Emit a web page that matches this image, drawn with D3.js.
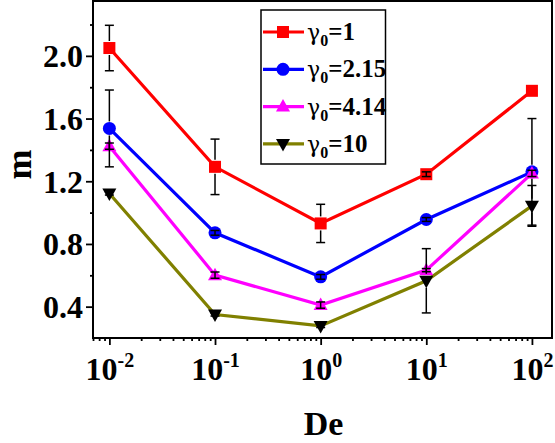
<!DOCTYPE html>
<html><head><meta charset="utf-8">
<script src="https://cdn.jsdelivr.net/npm/d3@7"></script>
<style>
html,body{margin:0;padding:0;background:#fff;}
svg{display:block;}
text{font-family:"Liberation Serif","Times New Roman",serif;font-weight:bold;fill:#000;}
</style></head>
<body><svg id="c" width="555" height="443"></svg>
<script>
const deValues = [0.01, 0.1, 1, 10, 100];
const seriesNames = ["1", "2.15", "4.14", "10"];
const m_g1    = [2.05, 1.292, 0.931, 1.245, 1.777];
const m_g215  = [1.537, 0.871, 0.59, 0.956, 1.26];
const m_g414  = [1.424, 0.601, 0.41, 0.633, 1.25];
const m_g10   = [1.122, 0.35, 0.277, 0.565, 1.043];
const err_g1   = [0.145, 0.177, 0.122, 0.015, 0.005];
const err_g215 = [0.245, 0.015, 0.015, 0.012, 0.34];
const err_g414 = [0.02, 0.02, 0.02, 0.01, 0.02];
const err_g10  = [0.01, 0.01, 0.01, 0.205, 0.13];
const xTickExps = [-2, -1, 0, 1, 2];
const yTicks = [0.4, 0.8, 1.2, 1.6, 2.0];
const yMinorTicks = [0.6, 1.0, 1.4, 1.8, 2.2];

const series = [
  {name: seriesNames[0], values: m_g1,   errs: err_g1,   color: "#ff0000", mfill: "#ff0000", shape: "square"},
  {name: seriesNames[1], values: m_g215, errs: err_g215, color: "#0000ff", mfill: "#0000ff", shape: "circle"},
  {name: seriesNames[2], values: m_g414, errs: err_g414, color: "#ff00ff", mfill: "#ff00ff", shape: "up"},
  {name: seriesNames[3], values: m_g10,  errs: err_g10,  color: "#808000", mfill: "#000000", shape: "down"}
];

const L = 93, R = 552, T = 1, B = 338;
const svg = d3.select("#c");
const x = d3.scaleLog().domain([Math.pow(10, -2.155), Math.pow(10, 2.19)]).range([L, R]);
const y = d3.scaleLinear().domain([0.2, 2.35]).range([B, T]);

const xMinor = [];
for (let e = -3; e <= 2; e++) for (let k = 2; k <= 9; k++) {
  const v = k * Math.pow(10, e);
  if (v >= x.domain()[0] && v <= x.domain()[1]) xMinor.push(v);
}

const gxMinor = svg.append("g").attr("transform", `translate(0,${B})`)
  .call(d3.axisBottom(x).tickValues(xMinor).tickSize(3).tickFormat(""));
const gx = svg.append("g").attr("transform", `translate(0,${B})`)
  .call(d3.axisBottom(x).tickValues(xTickExps.map(e => Math.pow(10, e))).tickSize(7).tickFormat(""));
const gyMinor = svg.append("g").attr("transform", `translate(${L},0)`)
  .call(d3.axisLeft(y).tickValues(yMinorTicks).tickSize(3).tickFormat(""));
const gy = svg.append("g").attr("transform", `translate(${L},0)`)
  .call(d3.axisLeft(y).tickValues(yTicks).tickSize(7).tickFormat(d3.format(".1f")));
[gxMinor, gx, gyMinor, gy].forEach(g => {
  g.select(".domain").remove();
  g.selectAll(".tick line").attr("stroke", "#000").attr("stroke-width", 1.8);
});
gy.selectAll(".tick text").attr("x", -10).attr("dy", "0.34em")
  .style("font-size", "32px").style("font-family", "Liberation Serif").style("font-weight", "bold");

gx.selectAll(".tick").each(function(d) {
  const e = Math.round(Math.log10(d));
  const t = d3.select(this).append("text").attr("y", 42).attr("text-anchor", "middle")
    .style("font-size", "32px");
  t.append("tspan").text("10");
  t.append("tspan").attr("dy", -13).style("font-size", "20px").text(String(e));
});

svg.append("rect").attr("x", L).attr("y", T).attr("width", R - L).attr("height", B - T)
  .attr("fill", "none").attr("stroke", "#000").attr("stroke-width", 2);

svg.append("text").attr("x", (L + R) / 2 + 1).attr("y", 435).attr("text-anchor", "middle")
  .style("font-size", "34px").text("De");
svg.append("text").attr("transform", `translate(31,${(B + T) / 2 - 5}) rotate(-90)`)
  .attr("text-anchor", "middle").style("font-size", "36px").text("m");

function marker(g, shape, cx, cy, fill) {
  if (shape === "square") {
    g.append("rect").attr("x", cx - 6).attr("y", cy - 6).attr("width", 12).attr("height", 12).attr("fill", fill);
  } else if (shape === "circle") {
    g.append("circle").attr("cx", cx).attr("cy", cy).attr("r", 6.5).attr("fill", fill);
  } else if (shape === "up") {
    g.append("path").attr("d", `M${cx},${cy - 7.5}L${cx + 7},${cy + 5}L${cx - 7},${cy + 5}Z`).attr("fill", fill);
  } else {
    g.append("path").attr("d", `M${cx},${cy + 7.5}L${cx + 7},${cy - 5}L${cx - 7},${cy - 5}Z`).attr("fill", fill);
  }
}

const line = d3.line().x(d => x(d[0])).y(d => y(d[1]));
const plot = svg.append("g");
series.forEach(s => {
  const pts = deValues.map((d, i) => [d, s.values[i]]);
  plot.append("path").attr("d", line(pts)).attr("fill", "none")
    .attr("stroke", s.color).attr("stroke-width", 3.2);
});
series.forEach(s => {
  deValues.forEach((d, i) => marker(plot, s.shape, x(d), y(s.values[i]), s.mfill));
});
series.forEach(s => {
  deValues.forEach((d, i) => {
    const cx = x(d), v = s.values[i], e = s.errs[i];
    if (e < 0.008) return;
    const y1 = y(v + e), y2 = y(v - e), cy = y(v);
    const g = plot.append("g").attr("stroke", "#000").attr("stroke-width", 1.5);
    if (cy - y1 > 7) {
      g.append("line").attr("x1", cx).attr("x2", cx).attr("y1", y1).attr("y2", cy - 7);
      g.append("line").attr("x1", cx).attr("x2", cx).attr("y1", cy + 7).attr("y2", y2);
    } else {
      g.append("line").attr("x1", cx).attr("x2", cx).attr("y1", y1).attr("y2", y2);
    }
    g.append("line").attr("x1", cx - 4.5).attr("x2", cx + 4.5).attr("y1", y1).attr("y2", y1);
    g.append("line").attr("x1", cx - 4.5).attr("x2", cx + 4.5).attr("y1", y2).attr("y2", y2);
  });
});

const lg = svg.append("g");
lg.append("rect").attr("x", 261).attr("y", 10).attr("width", 124.5).attr("height", 154)
  .attr("fill", "#fff").attr("stroke", "#000").attr("stroke-width", 1.5);
series.forEach((s, i) => {
  const cy = 32 + i * 37.3;
  lg.append("line").attr("x1", 263).attr("x2", 304).attr("y1", cy).attr("y2", cy)
    .attr("stroke", s.color).attr("stroke-width", 3.2);
  marker(lg, s.shape, 283, cy, s.mfill);
  const t = lg.append("text").attr("x", 307).attr("y", cy + 8).style("font-size", "25px");
  t.append("tspan").style("font-weight", "normal").style("font-family", "DejaVu Serif").style("font-size", "22px").text("γ");
  t.append("tspan").attr("dy", 6).style("font-size", "16px").text("0");
  t.append("tspan").attr("dy", -6).text("=" + s.name);
});
</script></body></html>
